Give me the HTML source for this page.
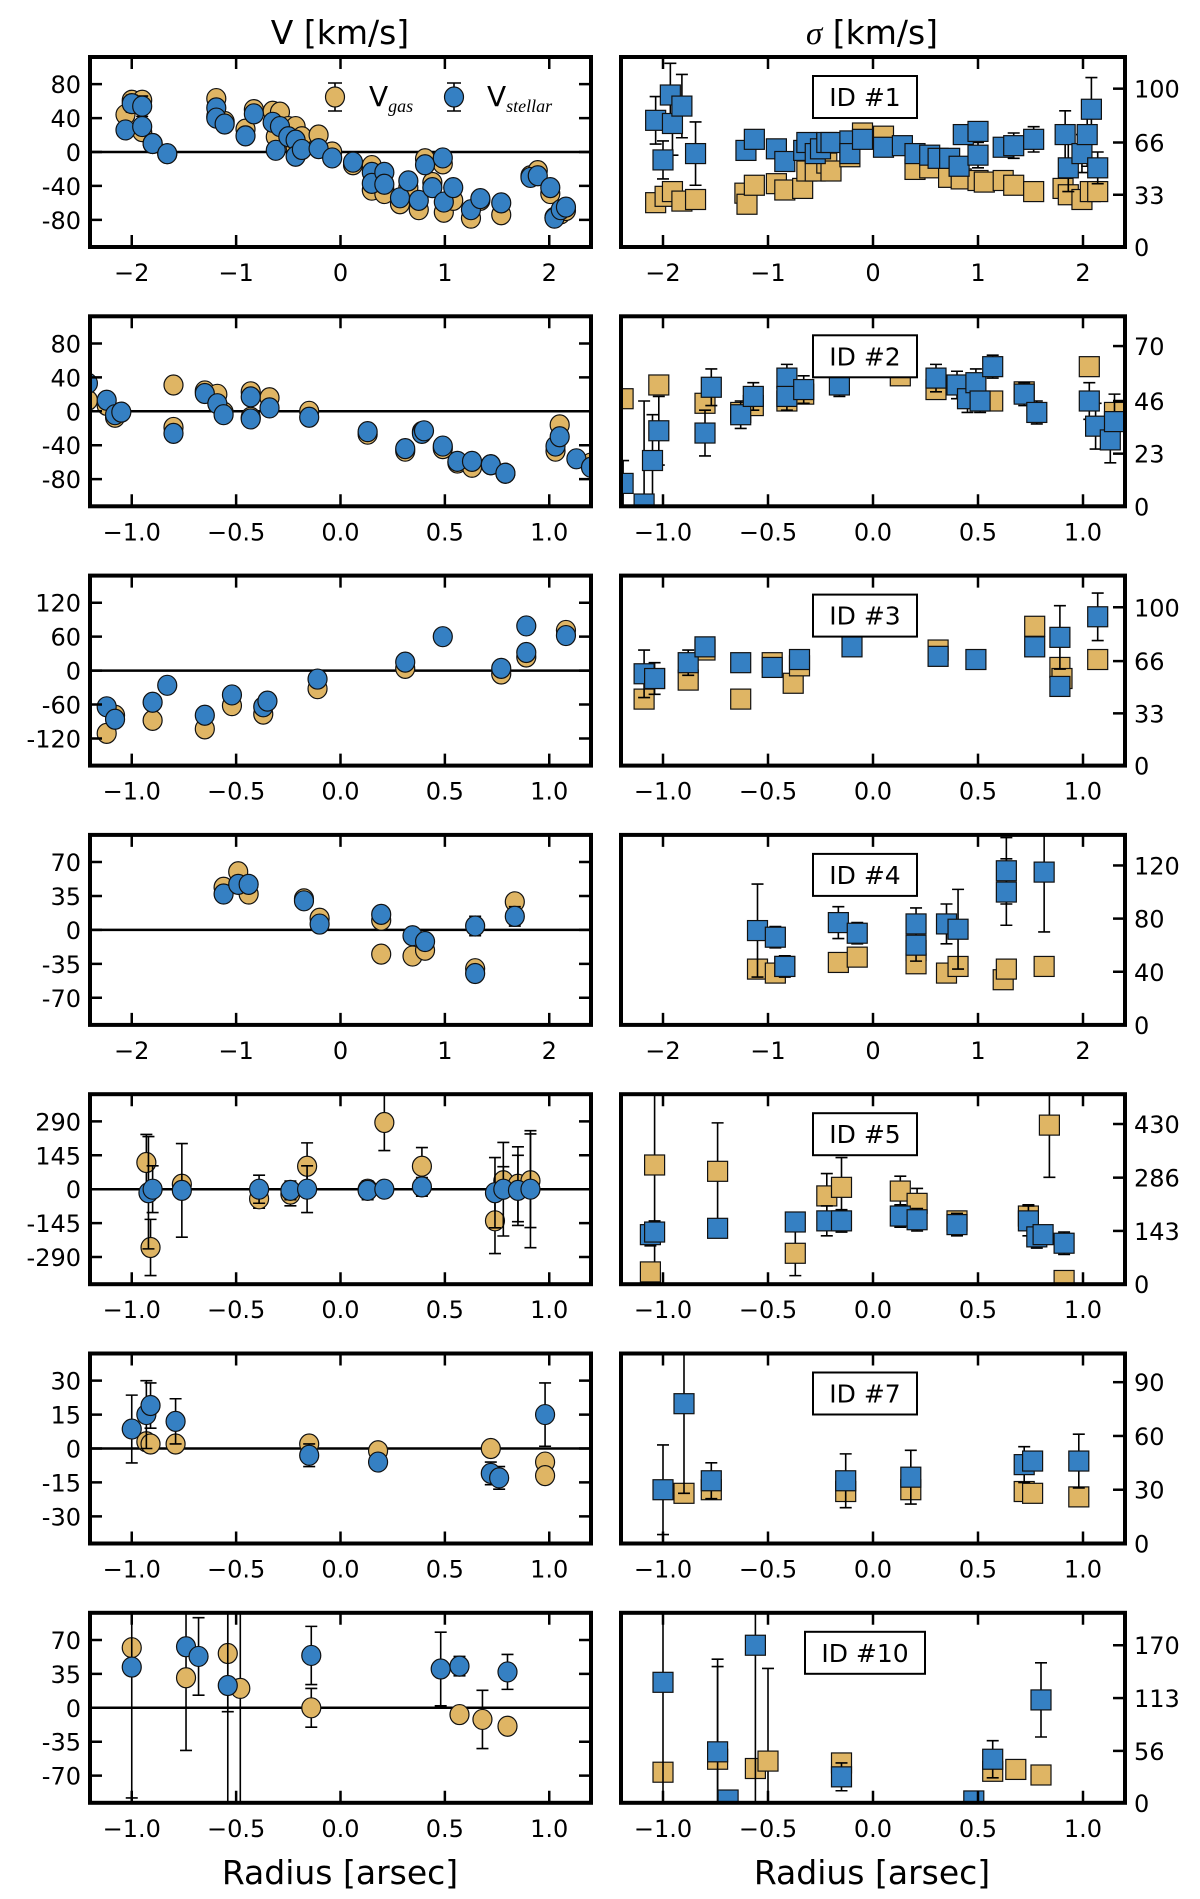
<!DOCTYPE html>
<html><head><meta charset="utf-8">
<style>
html,body{margin:0;padding:0;background:#fff;}
svg{display:block;}
text{font-family:"DejaVu Sans","Liberation Sans",sans-serif;}
</style></head>
<body>
<svg id="fig" width="1200" height="1899" viewBox="0 0 1200 1899" xmlns="http://www.w3.org/2000/svg">
<text x="340" y="44" font-size="33" text-anchor="middle">V [km/s]</text>
<text x="872" y="44" font-size="33" text-anchor="middle"><tspan font-family="Liberation Serif, serif" font-style="italic">σ</tspan> [km/s]</text>
<text x="340" y="1884" font-size="33" text-anchor="middle">Radius [arsec]</text>
<text x="872" y="1884" font-size="33" text-anchor="middle">Radius [arsec]</text>
</svg>
<script>
// ---- Row 1 (ID #1) ----
const r1vX=[-2.06,-2.0,-1.9,-1.9,-1.8,-1.66,-1.19,-1.19,-1.11,-0.91,-0.83,-0.65,-0.62,-0.58,-0.5,-0.43,-0.43,-0.37,-0.21,-0.08,0.12,0.3,0.3,0.42,0.42,0.57,0.65,0.75,0.81,0.88,0.98,0.99,1.08,1.25,1.34,1.54,1.82,1.89,2.01,2.05,2.11,2.16];
const r1vGas=[44,61,61,24,10,-2,63,42,36,27,50,48,18,47,30,30,6,18,20,0,-15,-16,-45,-44,-49,-61,-42,-68,-8,-36,-14,-71,-57,-78,-57,-74,-28,-22,-49,-77,-73,-69];
const r1vStar=[26,57,54,30,10,-2,52,40,33,19,45,35,2,30,18,14,-5,3,4,-7,-12,-24,-37,-24,-38,-54,-34,-57,-15,-42,-7,-59,-42,-68,-55,-60,-30,-28,-42,-78,-68,-65];
const r1vStarErr=[6,10,12,8,6,6,4,4,4,4,4,4,4,4,4,4,4,4,4,4,4,4,4,4,4,4,4,4,4,4,4,4,4,4,4,4,6,6,8,6,6,6];
const r1sStarX=[-2.07,-2.0,-1.93,-1.91,-1.82,-1.69,-1.21,-1.13,-0.92,-0.84,-0.66,-0.63,-0.55,-0.5,-0.44,-0.4,-0.22,-0.22,-0.1,0.1,0.28,0.4,0.54,0.62,0.73,0.82,0.86,1.0,1.0,1.24,1.34,1.53,1.83,1.86,1.99,2.04,2.08,2.14];
const r1sStar=[80,55,96,78,89,59,61,68,62,54,61,66,59,62,66,66,67,59,68,63,64,59,58,56,56,51,71,73,58,63,64,68,71,50,59,71,87,50];
const r1sStarErr=[15,12,20,20,20,20,6,6,6,6,6,6,6,6,6,6,4,4,4,4,4,4,4,4,4,6,6,6,8,6,8,8,15,15,12,20,20,10];
const r1sGasX=[-2.07,-1.98,-1.91,-1.82,-1.69,-1.22,-1.2,-1.13,-0.92,-0.84,-0.67,-0.63,-0.55,-0.44,-0.4,-0.22,-0.1,0.1,0.4,0.54,0.72,0.84,1.0,1.06,1.24,1.34,1.53,1.81,1.86,1.99,2.07,2.14];
const r1sGas=[28,32,35,29,30,34,27,39,40,36,37,48,48,53,48,57,72,70,49,50,44,43,42,41,42,39,35,37,33,30,35,35];
// ---- Row 2 (ID #2) ----
const r2vStarX=[-1.21,-1.12,-1.08,-1.05,-0.8,-0.65,-0.59,-0.56,-0.43,-0.43,-0.34,-0.15,0.13,0.31,0.39,0.4,0.49,0.56,0.63,0.72,0.79,1.03,1.05,1.13,1.2];
const r2vStar=[33,13,-4,-1,-26,21,9,-4,-9,17,4,-7,-24,-44,-26,-23,-41,-59,-59,-63,-73,-41,-30,-56,-66];
const r2vGasX=[-1.21,-1.12,-1.08,-0.8,-0.8,-0.65,-0.59,-0.56,-0.43,-0.43,-0.34,-0.15,0.13,0.31,0.39,0.49,0.56,0.63,0.72,0.79,1.05,1.03,1.2];
const r2vGas=[13,7,-7,31,-19,24,20,-1,23,-7,16,0,-27,-47,-24,-44,-61,-66,-63,-73,-16,-47,-61];
const r2sStarX=[-1.19,-1.09,-1.05,-1.02,-0.8,-0.77,-0.63,-0.57,-0.41,-0.41,-0.33,-0.16,0.3,0.4,0.45,0.49,0.57,0.51,0.72,0.78,1.03,1.06,1.13,1.15];
const r2sStar=[10,1,20,33,32,52,40,48,56,48,51,53,56,53,47,54,61,46,49,41,46,35,29,37];
const r2sStarErr=[10,45,20,15,10,8,6,6,6,6,6,5,6,6,6,6,5,5,5,5,8,10,10,12];
const r2sGasX=[-1.19,-1.02,-0.8,-0.63,-0.57,-0.41,-0.33,0.13,0.3,0.45,0.57,0.72,1.03,1.15];
const r2sGas=[47,53,45,41,44,46,49,57,51,52,46,50,61,41];
// ---- Row 3 (ID #3) ----
const r3vStarX=[-1.12,-1.08,-0.9,-0.83,-0.65,-0.52,-0.37,-0.35,-0.11,0.31,0.49,0.77,0.89,0.89,1.08];
const r3vStar=[-64,-86,-56,-26,-79,-43,-64,-54,-15,15,60,4,79,32,62];
const r3vGasX=[-1.12,-1.08,-0.9,-0.65,-0.52,-0.37,-0.11,0.31,0.77,0.89,1.08];
const r3vGas=[-111,-79,-88,-103,-62,-77,-32,4,-6,24,71];
const r3sStarX=[-1.09,-1.04,-0.88,-0.8,-0.63,-0.48,-0.35,-0.1,0.31,0.49,0.77,0.89,0.89,1.07];
const r3sStar=[58,55,65,75,65,62,67,75,69,67,75,81,50,94];
const r3sStarErr=[15,10,8,5,5,5,5,3,3,3,5,20,5,15];
const r3sGasX=[-1.09,-1.04,-0.88,-0.8,-0.63,-0.48,-0.38,-0.35,0.31,0.77,0.89,0.9,1.07];
const r3sGas=[42,55,54,73,42,65,52,63,73,88,62,55,67];
// ---- Row 4 (ID #4) ----
const r4vStarX=[-1.12,-0.98,-0.88,-0.35,-0.2,0.39,0.69,0.81,1.29,1.29,1.67];
const r4vStar=[37,47,47,30,6,16,-6,-12,4,-45,14];
const r4vStarErr=[8,8,8,6,4,6,8,8,10,8,10];
const r4vGasX=[-1.12,-0.98,-0.88,-0.35,-0.2,0.39,0.39,0.69,0.81,1.29,1.67];
const r4vGas=[44,60,37,32,12,-25,10,-27,-21,-40,29];
const r4sStarX=[-1.1,-0.93,-0.84,-0.33,-0.15,0.41,0.41,0.7,0.81,1.27,1.27,1.63];
const r4sStar=[71,66,44,77,69,76,60,76,72,116,100,115];
const r4sStarErr=[35,8,8,12,8,12,12,15,30,25,25,45];
const r4sGasX=[-1.1,-0.93,-0.84,-0.33,-0.15,0.41,0.41,0.7,0.81,1.24,1.27,1.63];
const r4sGas=[42,39,44,47,51,56,46,39,44,34,42,44];
// ---- Row 5 (ID #5) ----
const r5vStarX=[-0.92,-0.9,-0.76,-0.39,-0.24,-0.16,0.13,0.21,0.39,0.74,0.78,0.85,0.91];
const r5vStar=[-15,0,-5,0,-5,0,-5,0,10,-15,0,-5,0];
const r5vStarErr=[240,100,200,60,40,100,40,30,40,150,200,150,250];
const r5vGasX=[-0.93,-0.91,-0.76,-0.39,-0.24,-0.16,0.13,0.21,0.39,0.74,0.78,0.85,0.91];
const r5vGas=[114,-249,21,-41,-21,98,0,285,98,-135,36,21,36];
const r5vGasErr=[120,120,30,40,50,100,0,120,80,140,60,160,200];
const r5sStarX=[-1.06,-1.04,-0.74,-0.37,-0.22,-0.15,0.13,0.21,0.4,0.74,0.78,0.81,0.91];
const r5sStar=[133,140,150,167,170,170,183,173,160,170,127,133,110];
const r5sStarErr=[30,30,20,20,40,30,30,30,30,40,30,20,30];
const r5sGasX=[-1.06,-1.04,-0.74,-0.37,-0.22,-0.15,0.13,0.21,0.4,0.74,0.84,0.91];
const r5sGas=[33,320,303,83,237,260,250,217,170,183,427,10];
const r5sGasErr=[20,300,130,60,60,80,40,40,0,30,140,20];
// ---- Row 6 (ID #7) ----
const r6vStarX=[-1.0,-0.93,-0.91,-0.79,-0.15,0.18,0.72,0.76,0.98];
const r6vStar=[8.6,15,19,12,-3,-6,-11,-13,15];
const r6vStarErr=[15,15,10,10,5,3,5,5,14];
const r6vGasX=[-0.93,-0.91,-0.79,-0.15,0.18,0.72,0.98,0.98];
const r6vGas=[3,2,2,2,-1,0,-6,-12];
const r6sStarX=[-1.0,-0.9,-0.77,-0.13,0.18,0.72,0.76,0.98];
const r6sStar=[30,78,35,35,37,44,46,46];
const r6sStarErr=[25,50,10,15,15,10,5,15];
const r6sGasX=[-0.9,-0.77,-0.13,0.18,0.72,0.76,0.98];
const r6sGas=[28,30,29,30,29,28,26];
// ---- Row 7 (ID #10) ----
const r7vStarX=[-1.0,-0.74,-0.68,-0.54,-0.14,0.48,0.57,0.8];
const r7vStar=[42,63,53,23,54,40,43,37];
const r7vStarErr=[135,0,40,200,30,38,10,18];
const r7vGasX=[-1.0,-0.74,-0.54,-0.48,-0.14,0.57,0.68,0.8];
const r7vGas=[62,31,56,20,0,-7,-12,-19];
const r7vGasErr=[0,75,60,200,20,0,30,0];
const r7sStarX=[-1.0,-0.74,-0.69,-0.56,-0.15,0.48,0.57,0.8];
const r7sStar=[130,55,3,170,28,2,47,111];
const r7sStarErr=[200,100,5,200,15,0,20,40];
const r7sGasX=[-1.0,-0.74,-0.56,-0.5,-0.15,0.57,0.68,0.8];
const r7sGas=[33,47,37,45,43,34,36,30];
const r7sGasErr=[0,100,0,100,0,0,0,0];
// ---- axis tick labels ----
const wideXTicks=[-2,-1,0,1,2];
const narrowXTicks=[-1.0,-0.5,0.0,0.5,1.0];
const leftYTicks=[[80,40,0,-40,-80],[80,40,0,-40,-80],[120,60,0,-60,-120],[70,35,0,-35,-70],[290,145,0,-145,-290],[30,15,0,-15,-30],[70,35,0,-35,-70]];
const rightYTicks=[[0,33,66,100],[0,23,46,70],[0,33,66,100],[0,40,80,120],[0,143,286,430],[0,30,60,90],[0,56,113,170]];
const idLabels=["ID #1","ID #2","ID #3","ID #4","ID #5","ID #7","ID #10"];

const svg=document.getElementById('fig');
const NS='http://www.w3.org/2000/svg';
const GAS='#dfb564', STAR='#3580c3';
function mk(tag,attrs,parent){const e=document.createElementNS(NS,tag);for(const k in attrs)e.setAttribute(k,attrs[k]);(parent||svg).appendChild(e);return e;}

const leftYLim=[112,112,168,98,406,42,98];
const rightYMax=[120,83,120,143,510,106,205];
const rowData=[
 {wide:true,vg:[r1vX,r1vGas,null],vs:[r1vX,r1vStar,r1vStarErr],sg:[r1sGasX,r1sGas,null],ss:[r1sStarX,r1sStar,r1sStarErr]},
 {wide:false,vg:[r2vGasX,r2vGas,null],vs:[r2vStarX,r2vStar,null],sg:[r2sGasX,r2sGas,null],ss:[r2sStarX,r2sStar,r2sStarErr]},
 {wide:false,vg:[r3vGasX,r3vGas,null],vs:[r3vStarX,r3vStar,null],sg:[r3sGasX,r3sGas,null],ss:[r3sStarX,r3sStar,r3sStarErr]},
 {wide:true,vg:[r4vGasX,r4vGas,null],vs:[r4vStarX,r4vStar,r4vStarErr],sg:[r4sGasX,r4sGas,null],ss:[r4sStarX,r4sStar,r4sStarErr]},
 {wide:false,vg:[r5vGasX,r5vGas,r5vGasErr],vs:[r5vStarX,r5vStar,r5vStarErr],sg:[r5sGasX,r5sGas,r5sGasErr],ss:[r5sStarX,r5sStar,r5sStarErr]},
 {wide:false,vg:[r6vGasX,r6vGas,null],vs:[r6vStarX,r6vStar,r6vStarErr],sg:[r6sGasX,r6sGas,null],ss:[r6sStarX,r6sStar,r6sStarErr]},
 {wide:false,vg:[r7vGasX,r7vGas,r7vGasErr],vs:[r7vStarX,r7vStar,r7vStarErr],sg:[r7sGasX,r7sGas,r7sGasErr],ss:[r7sStarX,r7sStar,r7sStarErr]}
];

function fmtX(v,wide){const s=wide?String(Math.abs(v)):Math.abs(v).toFixed(1);return v<0?'\u2212'+s:s;}

function drawPanel(r,side){
  const top=57+259.3*r, h=190, bot=top+h;
  const x0=side==='L'?90:621, x1=side==='L'?591:1125;
  const rd=rowData[r];
  const xr=rd.wide?2.4:1.2;
  const X=v=>x0+(v+xr)/(2*xr)*(x1-x0);
  let Y;
  if(side==='L'){const L=leftYLim[r];Y=v=>bot-(v+L)/(2*L)*h;}
  else{const M=rightYMax[r];Y=v=>bot-v/M*h;}
  const g=mk('g',{});
  
  
  const clipId='clip'+side+r;
  const cp=mk('clipPath',{id:clipId},g);
  mk('rect',{x:x0,y:top,width:x1-x0,height:h},cp);
  const pg=mk('g',{'clip-path':'url(#'+clipId+')'},g);
  if(side==='L'){
    const zl=mk('line',{x1:x0,x2:x1,y1:Y(0),y2:Y(0),stroke:'#000','stroke-width':2.5},pg);
    
    
  }
  function series(arr,color,shape,name){
    const [xs,ys,es]=arr;
    for(let i=0;i<xs.length;i++){
      const cx=X(xs[i]), cy=Y(ys[i]);
      if(es&&es[i]>0){
        const ya=Y(ys[i]+es[i]), yb=Y(ys[i]-es[i]);
        const eb=mk('path',{d:`M${cx},${ya}V${yb}M${cx-6},${ya}H${cx+6}M${cx-6},${yb}H${cx+6}`,stroke:'#000','stroke-width':1.6,fill:'none'},pg);
        
        
      }
    }
    for(let i=0;i<xs.length;i++){
      const cx=X(xs[i]), cy=Y(ys[i]);
      let m;
      if(shape==='c') m=mk('ellipse',{cx:cx,cy:cy,rx:9.5,ry:10,fill:color,stroke:'#111','stroke-width':1.2},pg);
      else m=mk('rect',{x:cx-10,y:cy-10,width:20,height:20,fill:color,stroke:'#111','stroke-width':1.2},pg);
      
      
    }
  }
  if(side==='L'){series(rd.vg,GAS,'c','v-gas');series(rd.vs,STAR,'c','v-stellar');}
  else{series(rd.sg,GAS,'s','sigma-gas');series(rd.ss,STAR,'s','sigma-stellar');}
  // ticks
  const xt=rd.wide?wideXTicks:narrowXTicks;
  xt.forEach(v=>{
    const tx=X(v);
    mk('path',{d:`M${tx},${bot}v-12M${tx},${top}v12`,stroke:'#000','stroke-width':2.5},g);
    const t=mk('text',{x:tx,y:bot+34,'font-size':24,'text-anchor':'middle'},g);
    t.textContent=fmtX(v,rd.wide);
    
    
  });
  const yt=side==='L'?leftYTicks[r]:rightYTicks[r];
  yt.forEach(v=>{
    const ty=Y(v);
    if(side==='L'){
      mk('path',{d:`M${x0},${ty}h12M${x1},${ty}h-12`,stroke:'#000','stroke-width':2.5},g);
      const t=mk('text',{x:x0-9,y:ty+9,'font-size':24,'text-anchor':'end'},g);
      t.textContent=String(v);
      
      
    }else{
      mk('path',{d:`M${x1},${ty}h-12`,stroke:'#000','stroke-width':2.5},g);
      const t=mk('text',{x:x1+9,y:ty+9,'font-size':24,'text-anchor':'start'},g);
      t.textContent=String(v);
      
      
    }
  });
  const fr=mk('rect',{x:x0,y:top,width:x1-x0,height:h,fill:'none',stroke:'#000','stroke-width':4},g);
  
  
  if(side==='R'){
    const lab=idLabels[r];
    const bw=lab.length>5?120:104;
    const bx=865-bw/2, by=top+19;
    const bg=mk('g',{},g);
    
    
    mk('rect',{x:bx,y:by,width:bw,height:42,fill:'#fff',stroke:'#000','stroke-width':2},bg);
    const t=mk('text',{x:bx+bw/2,y:by+30,'font-size':25,'text-anchor':'middle'},bg);
    t.textContent=lab;
  }
  if(side==='L'&&r===0){
    const lg=mk('g',{},g);
    
    
    [[335,GAS,'gas',369],[454,STAR,'stellar',487]].forEach(([mx,col,sub,tx])=>{
      const e=mk('g',{},lg);
      
      
      mk('path',{d:`M${mx},83V111M${mx-7},83H${mx+7}M${mx-7},111H${mx+7}`,stroke:'#000','stroke-width':1.6},e);
      mk('ellipse',{cx:mx,cy:97,rx:9.5,ry:10,fill:col,stroke:'#111','stroke-width':1.2},e);
      const t=mk('text',{x:tx,y:106,'font-size':28},e);
      t.innerHTML='V<tspan font-family="Liberation Serif, serif" font-style="italic" font-size="18" dy="6">'+sub+'</tspan>';
    });
  }
}
for(let r=0;r<7;r++){drawPanel(r,'L');drawPanel(r,'R');}
</script>
</body></html>
